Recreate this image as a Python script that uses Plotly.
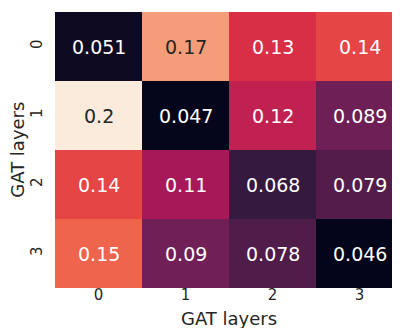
import plotly.graph_objects as go

rows = ["0", "1", "2", "3"]
cols = ["0", "1", "2", "3"]
values = [
    [0.051, 0.17, 0.13, 0.14],
    [0.2, 0.047, 0.12, 0.089],
    [0.14, 0.11, 0.068, 0.079],
    [0.15, 0.09, 0.078, 0.046],
]
labels = [
    ["0.051", "0.17", "0.13", "0.14"],
    ["0.2", "0.047", "0.12", "0.089"],
    ["0.14", "0.11", "0.068", "0.079"],
    ["0.15", "0.09", "0.078", "0.046"],
]
axis_title = "GAT layers"

rocket = [
    [0.0, "#03051a"],
    [1/7, "#35193e"],
    [2/7, "#701f57"],
    [3/7, "#ad1759"],
    [4/7, "#e13342"],
    [5/7, "#f37651"],
    [6/7, "#f6b48f"],
    [1.0, "#faebdd"],
]

vmin = min(min(r) for r in values)
vmax = max(max(r) for r in values)

fig = go.Figure(go.Heatmap(
    z=values, x=cols, y=rows, colorscale=rocket, zmin=vmin, zmax=vmax,
    showscale=False, xgap=0, ygap=0, hoverinfo="skip",
))

annotations = []
for i, r in enumerate(rows):
    for j, c in enumerate(cols):
        frac = (values[i][j] - vmin) / (vmax - vmin)
        color = "#262626" if frac > 0.75 else "#ffffff"
        annotations.append(dict(x=c, y=r, text=labels[i][j], showarrow=False,
                                font=dict(size=19, color=color, family="DejaVu Sans")))

annotations.append(dict(xref="paper", yref="paper", x=0.5, y=-0.112, yanchor="middle",
                        xanchor="center", text=axis_title, showarrow=False,
                        font=dict(size=18, color="#262626", family="DejaVu Sans")))
annotations.append(dict(xref="paper", yref="paper", x=-0.11, y=0.5, xanchor="center",
                        yanchor="middle", textangle=-90, text=axis_title, showarrow=False,
                        font=dict(size=18, color="#262626", family="DejaVu Sans")))

fig.update_layout(
    width=400, height=328,
    margin=dict(l=47, r=5, t=4, b=48),
    paper_bgcolor="white", plot_bgcolor="white",
    font=dict(family="DejaVu Sans", color="#262626"),
    annotations=annotations,
    xaxis=dict(tickfont=dict(size=15), ticks="", showgrid=False, zeroline=False,
               showline=False, automargin=False, ticklabelstandoff=-4),
    yaxis=dict(tickfont=dict(size=15), ticks="", tickangle=-90, autorange="reversed",
               showgrid=False, zeroline=False, showline=False, automargin=False,
               ticklabelstandoff=9),
)

fig.write_html("out.html")
